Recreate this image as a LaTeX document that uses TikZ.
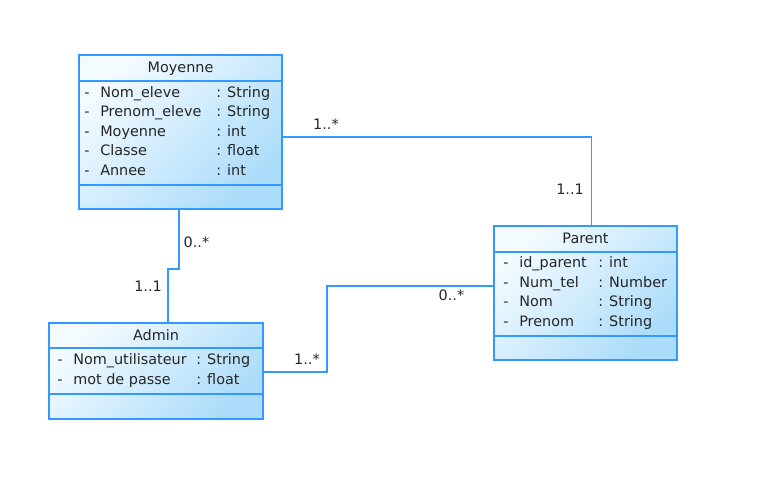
\documentclass[tikz,border=0pt]{standalone}
\usepackage{fontspec}
\setmainfont{DejaVu Sans}
\usetikzlibrary{fit,calc}

\definecolor{umlblue}{HTML}{3399FF}
\definecolor{fillA}{HTML}{F4FBFF}
\definecolor{fillB}{HTML}{ABDCFA}
\definecolor{txt}{HTML}{262626}

\tikzset{
  classbox/.style={draw=umlblue, line width=1.3pt, inner sep=0pt,
    shading=axis, top color=fillA, bottom color=fillB, shading angle=45},
  sep/.style={draw=umlblue, line width=1.3pt},
  assoc/.style={draw=umlblue, line width=1.3pt},
  title/.style={font=\fontsize{10.8}{12}\selectfont, text=txt, inner sep=0pt,
    text height=7pt, text depth=0pt},
  attr/.style={title, anchor=west},
  mult/.style={title}
}

\begin{document}
\begin{tikzpicture}[x=0.75pt, y=-0.75pt]
  \useasboundingbox (0,0) rectangle (777,502);

  % classes
  \node[classbox, fit={(79,55) (282,209)}] (moy) {};
  \node[classbox, fit={(494,226) (677,360)}] (par) {};
  \node[classbox, fit={(49,323) (263,419)}] (adm) {};

  \foreach \c/\a/\b in {moy/81/185, par/252/336, adm/348/394} {
    \draw[sep] (\c.west |- 0,\a) -- (\c.east |- 0,\a);
    \draw[sep] (\c.west |- 0,\b) -- (\c.east |- 0,\b);
  }

  \node[title] (moy-t) at (moy.north |- 0,68) {Moyenne};
  \node[title] (par-t) at (par.north |- 0,239) {Parent};
  \node[title] (adm-t) at (adm.north |- 0,336) {Admin};

  \foreach \nm/\ty [count=\i] in {Nom\_eleve/String, Prenom\_eleve/String,
      Moyenne/int, Classe/float, Annee/int} {
    \node[attr] (moy-d\i) at (84, 73.5+19.4*\i) {-};
    \node[attr] (moy-n\i) at (100, 73.5+19.4*\i) {\nm};
    \node[attr] (moy-y\i) at (216, 73.5+19.4*\i) {: \ty};
  }

  \foreach \nm/\ty [count=\i] in {id\_parent/int, Num\_tel/Number,
      Nom/String, Prenom/String} {
    \node[attr] (par-d\i) at (503, 243.5+19.6*\i) {-};
    \node[attr] (par-n\i) at (519, 243.5+19.6*\i) {\nm};
    \node[attr] (par-y\i) at (598, 243.5+19.6*\i) {: \ty};
  }

  \foreach \nm/\ty [count=\i] in {Nom\_utilisateur/String, mot de passe/float} {
    \node[attr] (adm-d\i) at (57, 340+20*\i) {-};
    \node[attr] (adm-n\i) at (73, 340+20*\i) {\nm};
    \node[attr] (adm-y\i) at (196, 340+20*\i) {: \ty};
  }

  % associations
  \draw[assoc] ($(moy.east)+(0,5)$) -| ($(par.north)+(6,0)$);
  \draw[assoc] ($(moy.south)+(-1.5,0)$) -- ++(0,59) -| ($(adm.north)+(12,0)$);
  \draw[assoc] ($(adm.east)+(0,1)$) -- ++(63,0) |- ($(par.west)+(0,-7)$);

  \node[mult] (moy-par) at (326,125) {1..*};
  \node[mult] (par-moy) at (570,190) {1..1};
  \node[mult] (moy-adm) at (196.5,243) {0..*};
  \node[mult] (adm-moy) at (148,287) {1..1};
  \node[mult] (adm-par) at (307,360) {1..*};
  \node[mult] (par-adm) at (451.5,296) {0..*};
\end{tikzpicture}
\end{document}
